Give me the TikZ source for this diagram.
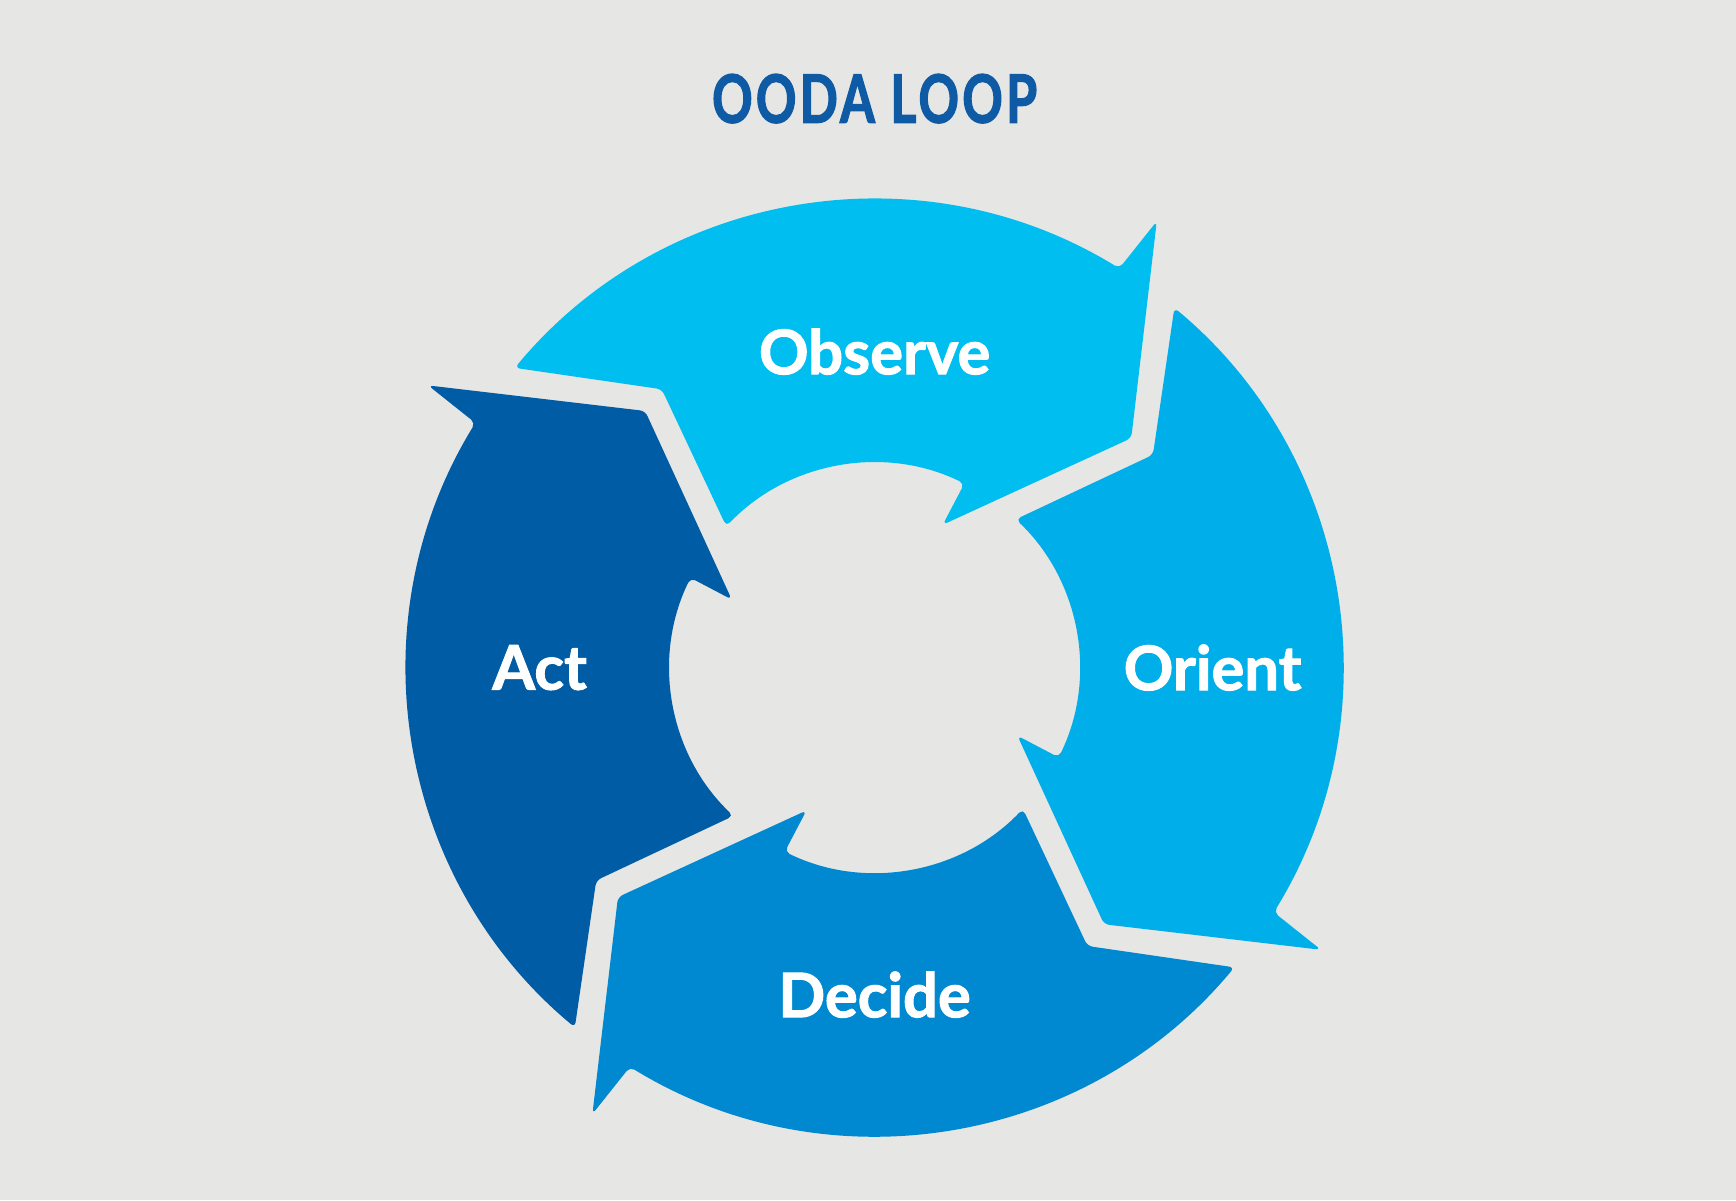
\documentclass[tikz,border=0pt]{standalone}
\usepackage{fontspec}
\setmainfont{Lato}
\newfontfamily\labelfont[FakeBold=1.6]{Lato}
\newfontfamily\titlefont[FakeStretch=0.75,LetterSpace=5,FakeBold=1.8]{Lato}
\usepackage{tikz}
\usetikzlibrary{positioning}
\definecolor{oodabg}{RGB}{230,230,229}
\definecolor{oodatitle}{RGB}{14,90,164}
\definecolor{oodaobserve}{RGB}{0,191,240}
\definecolor{oodaorient}{RGB}{0,174,233}
\definecolor{oodadecide}{RGB}{0,137,208}
\definecolor{oodaact}{RGB}{0,92,165}
\tikzset{
    % Segment styles
    loop segment/.style={
        rounded corners=1.5pt
    },
    % Text styles
    step label/.style={
        text=white,
        font=\labelfont\fontsize{17.5}{20}\selectfont\bfseries
    },
    title label/.style={
        text=oodatitle,
        font=\titlefont\fontsize{19}{22}\selectfont\bfseries
    }
}

\begin{document}
\begin{tikzpicture}
        % Background
        \fill[oodabg] (-8.746,-5.324) rectangle (8.614,6.676);
        \useasboundingbox (-8.746,-5.324) rectangle (8.614,6.676);

        % Four arrow segments
        \foreach \i/\col in {0/oodaobserve,1/oodaorient,2/oodadecide,3/oodaact} {
            \fill[loop segment, \col, rotate=-90*\i]
                (140.2:4.683) arc[start angle=140.2, end angle=58.5, radius=4.683]
                -- (57.7:5.281) -- (41.8:3.443) -- (64.5:1.583)
                -- (64.0:2.048) arc[start angle=64.0, end angle=136.4, radius=2.048]
                -- (127.4:3.504) -- cycle;
        }

        % Labels
        \node[step label] (observe) at (0,3.16) {Observe};
        \node[step label] (orient) at (3.38,0) {Orient};
        \node[step label] (decide) at (0,-3.27) {Decide};
        \node[step label] (act) at (-3.35,0) {Act};

        % Title
        \node[title label] (title) at (0,5.69) {OODA LOOP};
    \end{tikzpicture}
\end{document}
